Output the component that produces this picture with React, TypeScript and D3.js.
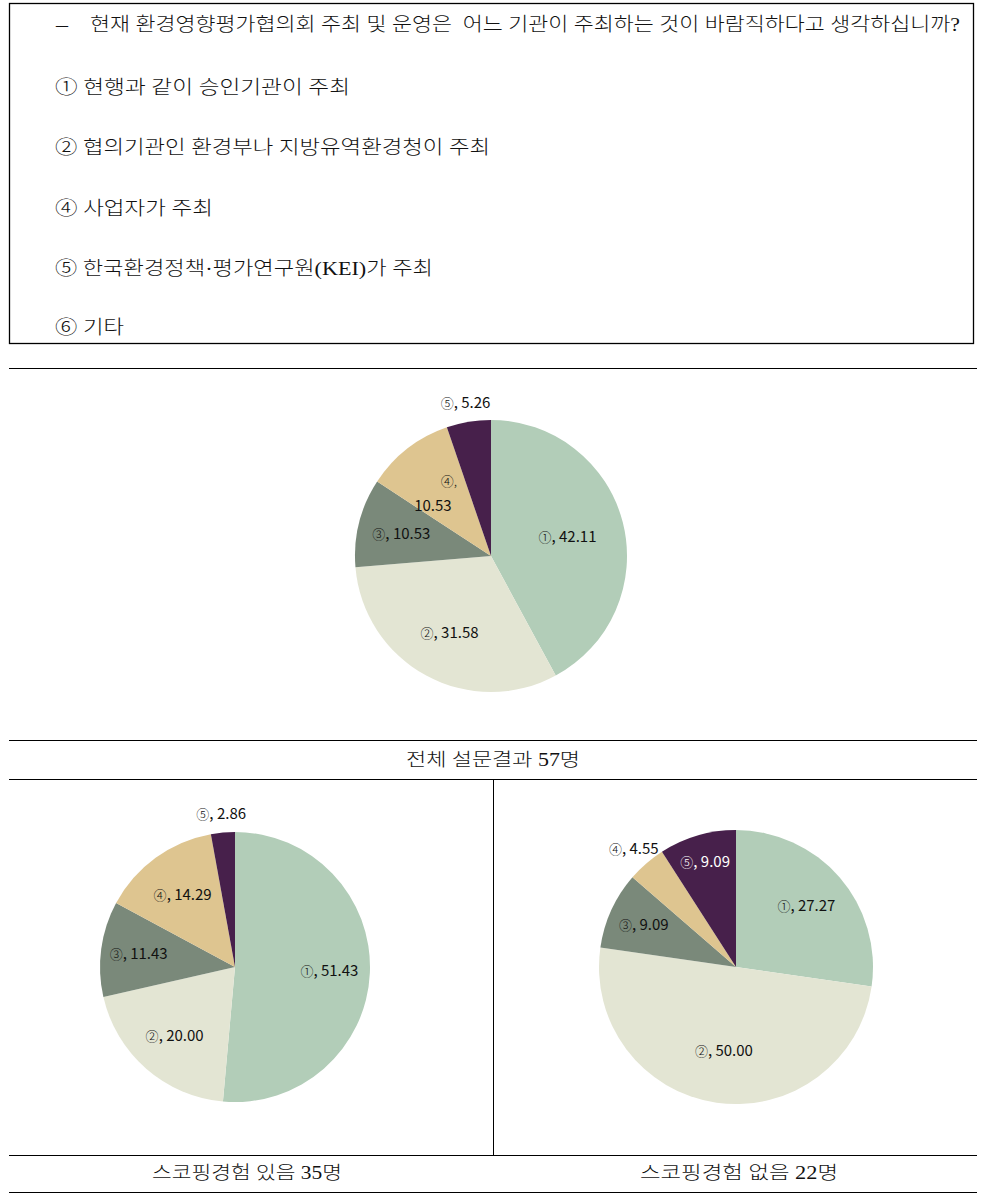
import React from "react";
import * as d3 from "d3";

const question = "현재 환경영향평가협의회 주최 및 운영은  어느 기관이 주최하는 것이 바람직하다고 생각하십니까?";
const options = [
  "① 현행과 같이 승인기관이 주최",
  "② 협의기관인 환경부나 지방유역환경청이 주최",
  "④ 사업자가 주최",
  "⑤ 한국환경정책·평가연구원(KEI)가 주최",
  "⑥ 기타",
];
const optionWidths = [295, 435, 158, 378, 69];

const categories = ["①", "②", "③", "④", "⑤"];
const colors = ["#b2cdb8", "#e3e5d3", "#7a897a", "#dec590", "#47204b"];

const totalValues = [42.11, 31.58, 10.53, 10.53, 5.26];
const withScopingValues = [51.43, 20.0, 11.43, 14.29, 2.86];
const withoutScopingValues = [27.27, 50.0, 9.09, 4.55, 9.09];

// label radius factor (relative to pie radius), >1 = outside
const totalLabelR = [0.58, 0.64, 0.68, 0.6, 1.14];
const withLabelR = [0.7, 0.68, 0.72, 0.66, 1.14];
const withoutLabelR = [0.68, 0.62, 0.74, 1.14, 0.8];

const captions = ["전체 설문결과 57명", "스코핑경험 있음 35명", "스코핑경험 없음 22명"];

const serif = "'Liberation Serif', 'Noto Sans CJK KR', serif";
const sans = "'Noto Sans CJK KR', 'Noto Sans', sans-serif";

type PieProps = {
  cx: number;
  cy: number;
  r: number;
  values: number[];
  labelR: number[];
  twoLine?: number;
};

function Pie({ cx, cy, r, values, labelR, twoLine }: PieProps) {
  const pie = d3.pie<number>().sort(null).value((d) => d);
  const arcs = pie(values);
  const arc = d3.arc<d3.PieArcDatum<number>>().innerRadius(0).outerRadius(r);
  return (
    <g transform={`translate(${cx},${cy})`}>
      {arcs.map((a, i) => (
        <path key={i} d={arc(a) || ""} fill={colors[i]} />
      ))}
      {arcs.map((a, i) => {
        const mid = (a.startAngle + a.endAngle) / 2;
        const k = labelR[i] * r;
        const x = Math.sin(mid) * k;
        const y = -Math.cos(mid) * k;
        const fill = i === 4 && labelR[i] < 1 ? "#ffffff" : "#111111";
        const valueText = d3.format(".2f")(values[i]);
        if (twoLine === i) {
          return (
            <text key={"l" + i} x={x} y={y} fontFamily={sans} fontSize={15} fill={fill} textAnchor="middle">
              <tspan x={x + 8} dy={-6} fontSize={13} fontWeight={300}>{categories[i]},</tspan>
              <tspan x={x - 8} dy={25}>{valueText}</tspan>
            </text>
          );
        }
        return (
          <text key={"l" + i} x={x} y={y} dy="0.35em" fontFamily={sans} fontSize={15} fill={fill} textAnchor="middle">
            <tspan fontSize={13} fontWeight={300}>{categories[i]}</tspan>
            <tspan>, {valueText}</tspan>
          </text>
        );
      })}
    </g>
  );
}

export default function App() {
  const W = 986;
  const H = 1199;
  const itemY = [87, 147, 208, 268, 327];
  return (
    <svg width={W} height={H} style={{ position: "absolute", left: 0, top: 0, background: "#fff" }}>
      <rect x={0} y={0} width={W} height={H} fill="#fff" />
      {/* question box */}
      <rect x={9.5} y={3.5} width={964} height={340} fill="none" stroke="#000" strokeWidth={1.3} />
      <text x={56} y={24} dy="0.35em" fontFamily={serif} fontSize={19} fill="#111" textLength={12} lengthAdjust="spacingAndGlyphs">–</text>
      <text x={90} y={24} dy="0.35em" fontFamily={serif} fontSize={19} fontWeight={300} fill="#111" textLength={870} lengthAdjust="spacingAndGlyphs" style={{ whiteSpace: "pre" }}>
        {question}
      </text>
      {options.map((o, i) => (
        <text key={o} x={55} y={itemY[i]} dy="0.35em" fontFamily={serif} fontSize={19} fontWeight={300} fill="#111" textLength={optionWidths[i]} lengthAdjust="spacingAndGlyphs">
          {o}
        </text>
      ))}

      {/* table lines */}
      <line x1={9} x2={977} y1={368.5} y2={368.5} stroke="#000" strokeWidth={1} />
      <line x1={9} x2={977} y1={740.5} y2={740.5} stroke="#000" strokeWidth={1} />
      <line x1={9} x2={977} y1={779.5} y2={779.5} stroke="#000" strokeWidth={1} />
      <line x1={493.5} x2={493.5} y1={779.5} y2={1155.5} stroke="#000" strokeWidth={1} />
      <line x1={9} x2={977} y1={1155.5} y2={1155.5} stroke="#000" strokeWidth={1} />
      <line x1={9} x2={977} y1={1192.5} y2={1192.5} stroke="#000" strokeWidth={1} />

      <Pie cx={491} cy={556} r={136} values={totalValues} labelR={totalLabelR} twoLine={3} />
      <Pie cx={235} cy={967} r={135} values={withScopingValues} labelR={withLabelR} />
      <Pie cx={736} cy={967} r={137} values={withoutScopingValues} labelR={withoutLabelR} />

      <text x={493} y={760} dy="0.35em" textAnchor="middle" fontFamily={serif} fontSize={18} fontWeight={300} fill="#111" textLength={174} lengthAdjust="spacingAndGlyphs">
        {captions[0]}
      </text>
      <text x={247} y={1173} dy="0.35em" textAnchor="middle" fontFamily={serif} fontSize={18} fontWeight={300} fill="#111" textLength={190} lengthAdjust="spacingAndGlyphs">
        {captions[1]}
      </text>
      <text x={739} y={1173} dy="0.35em" textAnchor="middle" fontFamily={serif} fontSize={18} fontWeight={300} fill="#111" textLength={198} lengthAdjust="spacingAndGlyphs">
        {captions[2]}
      </text>
    </svg>
  );
}
